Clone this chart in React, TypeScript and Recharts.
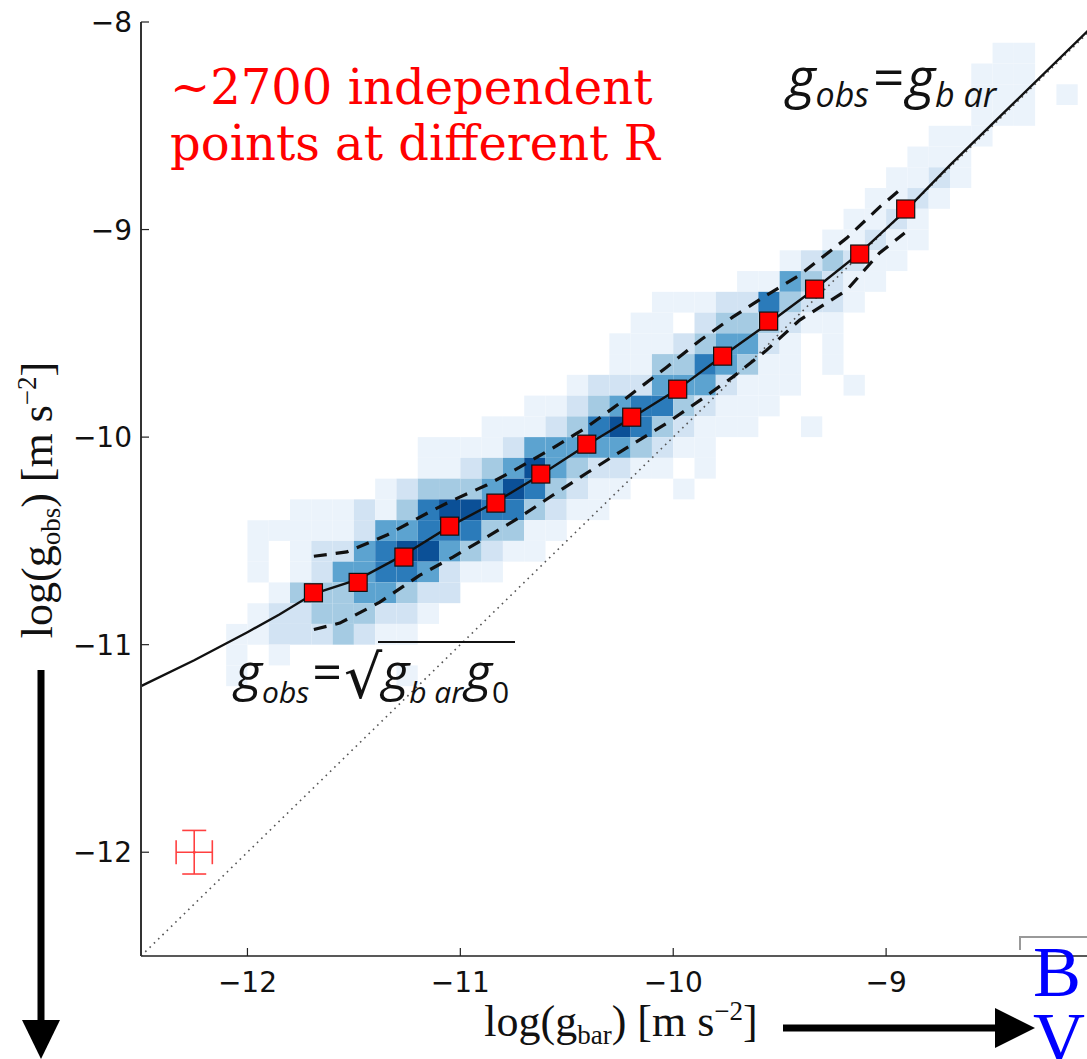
import { ComposedChart, Line, Scatter, XAxis, YAxis, ReferenceArea, ErrorBar } from 'recharts';

// axis ticks
const xTicks = [-12, -11, -10, -9];
const yTicks = [-12, -11, -10, -9, -8];

// binned means (red squares)
const binX = [-11.69, -11.48, -11.265, -11.05, -10.833, -10.622, -10.406, -10.195, -9.979, -9.768, -9.552, -9.336, -9.124, -8.908];
const binY = [-10.75, -10.7, -10.578, -10.429, -10.318, -10.178, -10.034, -9.904, -9.769, -9.61, -9.441, -9.287, -9.118, -8.901];

// fitted relation (solid line)
const fitX = [-12.5, -12.25, -12.0, -11.85, -11.69, -11.48, -11.27, -11.05, -10.83, -10.62, -10.41, -10.2, -9.98, -9.77, -9.55, -9.34, -9.12, -8.91, -8.7, -8.5, -8.0];
const fitY = [-11.2, -11.075, -10.94, -10.855, -10.755, -10.685, -10.57, -10.43, -10.31, -10.18, -10.04, -9.91, -9.77, -9.61, -9.45, -9.29, -9.11, -8.91, -8.69, -8.49, -7.99];

// rms scatter (dashed lines)
const upperX = [-11.688, -11.533, -11.345, -11.129, -11.035, -10.876, -10.721, -10.566, -10.406, -10.251, -10.031, -9.873, -9.721, -9.561, -9.406, -9.185, -9.031, -8.937];
const upperY = [-10.574, -10.553, -10.472, -10.352, -10.304, -10.231, -10.145, -10.053, -9.952, -9.836, -9.663, -9.533, -9.422, -9.316, -9.219, -9.041, -8.892, -8.81];
const lowerX = [-11.688, -11.566, -11.378, -11.19, -11.035, -10.876, -10.721, -10.566, -10.406, -10.251, -10.031, -9.873, -9.721, -9.561, -9.406, -9.185, -9.031, -8.913];
const lowerY = [-10.927, -10.896, -10.795, -10.665, -10.578, -10.482, -10.386, -10.28, -10.173, -10.072, -9.933, -9.822, -9.711, -9.581, -9.436, -9.292, -9.113, -9.017];

// one-to-one line
const unityX = [-12.5, -8.0];

// typical error bar
const errPoint = [{ x: -12.25, y: -12.0, ex: 0.085, ey: 0.105 }];

// 2D histogram: [row top edge, first column left edge, levels left to right (0 = empty)]
const heatRows: [number, number, number[]][] = [
  [-8.1, -8.5, [1, 1]],
  [-8.2, -8.6, [1, 1, 1]],
  [-8.3, -8.6, [1, 1, 1, 0, 1]],
  [-8.4, -8.6, [1, 1, 1]],
  [-8.5, -8.8, [1, 1, 1]],
  [-8.6, -8.9, [1, 1, 1]],
  [-8.7, -9.0, [1, 1, 2, 1]],
  [-8.8, -9.1, [1, 1, 2, 1]],
  [-8.9, -9.2, [1, 1, 2, 1]],
  [-9.0, -9.3, [1, 1, 2, 1, 1]],
  [-9.1, -9.5, [1, 2, 3, 2, 1, 1]],
  [-9.2, -9.7, [1, 1, 4, 3, 2, 1, 1]],
  [-9.3, -10.1, [1, 1, 1, 2, 2, 5, 3, 2, 2, 1]],
  [-9.4, -10.2, [1, 1, 0, 2, 3, 3, 3, 2, 1, 1]],
  [-9.5, -10.3, [1, 1, 1, 2, 3, 4, 4, 2, 1, 0, 1]],
  [-9.6, -10.3, [1, 1, 3, 3, 5, 4, 3, 1, 1, 0, 1]],
  [-9.7, -10.5, [1, 2, 2, 2, 4, 4, 4, 2, 1, 1, 1, 0, 0, 1]],
  [-9.8, -10.7, [1, 1, 2, 3, 4, 5, 5, 3, 2, 1, 1, 1]],
  [-9.9, -10.9, [1, 1, 1, 2, 3, 5, 6, 5, 3, 2, 1, 1, 1, 0, 0, 1]],
  [-10.0, -11.2, [1, 1, 1, 1, 2, 4, 4, 4, 4, 4, 3, 2, 1, 1]],
  [-10.1, -11.2, [1, 1, 2, 3, 4, 6, 4, 3, 2, 2, 1, 1, 0, 1]],
  [-10.2, -11.4, [1, 2, 3, 3, 3, 4, 6, 5, 3, 2, 1, 1, 0, 0, 1]],
  [-10.3, -11.8, [1, 1, 1, 2, 1, 3, 5, 6, 6, 5, 5, 3, 2, 1, 1]],
  [-10.4, -12.0, [1, 1, 1, 1, 1, 2, 4, 4, 5, 5, 5, 3, 3, 1, 1]],
  [-10.5, -12.0, [1, 0, 1, 2, 2, 4, 5, 6, 6, 4, 3, 2, 1, 1]],
  [-10.6, -12.0, [1, 0, 1, 2, 4, 4, 5, 5, 4, 2, 1, 1]],
  [-10.7, -11.9, [1, 3, 3, 3, 4, 4, 3, 2, 2]],
  [-10.8, -12.0, [1, 2, 2, 3, 3, 3, 2, 2, 1]],
  [-10.9, -12.1, [1, 1, 2, 2, 2, 3, 2, 1, 1]],
  [-11.0, -12.1, [1, 0, 1]],
  [-11.1, -12.1, [1, 0, 0, 0, 0, 0, 0, 0, 1]],
];
const heatColors = ['none', '#ebf3fb', '#d2e3f3', '#a5cbe3', '#5ca3d0', '#2b7bba', '#0b5097'];

const r2 = (v: number) => Math.round(v * 100) / 100;
const heatCells = heatRows.flatMap(([top, x0, levels]) =>
  levels
    .map((lv, i) => ({ x1: r2(x0 + i * 0.1), x2: r2(x0 + (i + 1) * 0.1), y1: r2(top - 0.1), y2: top, lv }))
    .filter(c => c.lv > 0)
);

const toPts = (xs: number[], ys: number[]) => xs.map((x, i) => ({ x, y: ys[i] }));
const binData = toPts(binX, binY);
const fitData = toPts(fitX, fitY);
const upperData = toPts(upperX, upperY);
const lowerData = toPts(lowerX, lowerY);
const unityData = toPts(unityX, unityX);

const fmt = (v: number) => (v < 0 ? '\u2212' + Math.abs(v) : String(v));
const tickFont = { fontFamily: 'DejaVu Sans', fontSize: 28, fill: '#111' };

const BottomTick = (props: any) => {
  const { x, y, payload } = props;
  return (
    <g>
      <line x1={x} y1={y} x2={x} y2={y - 8} stroke="#222" strokeWidth={1.2} />
      <text x={x} y={y + 36} textAnchor="middle" {...tickFont}>{fmt(payload.value)}</text>
    </g>
  );
};

const TopTick = (props: any) => {
  const { x, y } = props;
  return <line x1={x} y1={y} x2={x} y2={y + 8} stroke="#222" strokeWidth={1.2} />;
};

const LeftTick = (props: any) => {
  const { x, y, payload } = props;
  return (
    <g>
      <line x1={x} y1={y} x2={x + 8} y2={y} stroke="#222" strokeWidth={1.2} />
      <text x={x - 9} y={y + 10} textAnchor="end" {...tickFont}>{fmt(payload.value)}</text>
    </g>
  );
};

const Square = (props: any) => {
  const { cx, cy } = props;
  return <rect x={cx - 9} y={cy - 9} width={18} height={18} fill="#ff0000" stroke="#111" strokeWidth={1.2} />;
};

const Dot = (props: any) => {
  const { cx, cy } = props;
  return <circle cx={cx} cy={cy} r={1.5} fill="#ff4040" />;
};

const mathFont = { fontFamily: 'Open Sans', fontStyle: 'italic' as const, fill: '#111' };

export default function App() {
  return (
    <div style={{ position: 'fixed', left: 0, top: 0, width: 1087, height: 1059, overflow: 'hidden', background: '#fff' }}>
      <ComposedChart width={1100} height={1059} margin={{ top: 22, right: 1, bottom: 63, left: 81 }}>
        <XAxis
          dataKey="x"
          type="number"
          domain={[-12.5, -8]}
          ticks={xTicks}
          allowDataOverflow
          height={40}
          tickSize={0}
          tickMargin={0}
          tickLine={false}
          tick={<BottomTick />}
          axisLine={{ stroke: '#222', strokeWidth: 1.5 }}
        />
        <XAxis
          xAxisId="top"
          orientation="top"
          type="number"
          domain={[-12.5, -8]}
          ticks={xTicks}
          allowDataOverflow
          height={0}
          tickSize={0}
          tickMargin={0}
          tickLine={false}
          tick={<TopTick />}
          axisLine={{ stroke: '#222', strokeWidth: 1.5 }}
        />
        <YAxis
          dataKey="y"
          type="number"
          domain={[-12.5, -8]}
          ticks={yTicks}
          allowDataOverflow
          width={60}
          tickSize={0}
          tickMargin={0}
          tickLine={false}
          tick={<LeftTick />}
          axisLine={{ stroke: '#333', strokeWidth: 2 }}
        />
        {heatCells.map((c, i) => (
          <ReferenceArea
            key={i}
            x1={c.x1}
            x2={c.x2}
            y1={c.y1}
            y2={c.y2}
            fill={heatColors[c.lv]}
            fillOpacity={1}
            stroke="none"
          />
        ))}
        <Line data={unityData} dataKey="y" type="linear" stroke="#555" strokeWidth={1.6} strokeDasharray="1.6 4.4" dot={false} isAnimationActive={false} />
        <Line data={upperData} dataKey="y" type="linear" stroke="#111" strokeWidth={3.2} strokeDasharray="13 9" dot={false} isAnimationActive={false} />
        <Line data={lowerData} dataKey="y" type="linear" stroke="#111" strokeWidth={3.2} strokeDasharray="13 9" dot={false} isAnimationActive={false} />
        <Line data={fitData} dataKey="y" type="linear" stroke="#111" strokeWidth={2.4} dot={false} isAnimationActive={false} />
        <Scatter data={binData} dataKey="y" shape={<Square />} isAnimationActive={false} />
        <Scatter data={errPoint} dataKey="y" shape={<Dot />} isAnimationActive={false}>
          <ErrorBar dataKey="ex" direction="x" width={12} stroke="#ff4040" strokeWidth={1.6} />
          <ErrorBar dataKey="ey" direction="y" width={12} stroke="#ff4040" strokeWidth={1.6} />
        </Scatter>
      </ComposedChart>

      <svg width={1087} height={1059} style={{ position: 'absolute', left: 0, top: 0, pointerEvents: 'none' }}>
        {/* annotation */}
        <text x={170} y={104} fontFamily="DejaVu Serif" fontSize={48} fill="#ff0000">~2700 independent</text>
        <text x={170} y={160} fontFamily="DejaVu Serif" fontSize={48} fill="#ff0000">points at different R</text>

        {/* g_obs = g_bar */}
        <text x={787} y={97} fontSize={55} {...mathFont}>
          g<tspan fontSize={34} dy={10}>obs</tspan>
          <tspan fontStyle="normal" dy={-10} dx={4}>=</tspan>
          <tspan dx={2}>g</tspan>
          <tspan fontSize={34} dy={10}>b ar</tspan>
        </text>

        {/* g_obs = sqrt(g_bar g0) */}
        <text x={235} y={690} fontSize={52} {...mathFont}>
          g<tspan fontSize={30} dy={13}>obs</tspan>
          <tspan fontStyle="normal" dy={-13} dx={3}>=</tspan>
          <tspan fontStyle="normal" fontFamily="DejaVu Sans" fontSize={60} dx={2} dy={8}>{'\u221A'}</tspan>
          <tspan dy={-8}>g</tspan>
          <tspan fontSize={30} dy={13}>b ar</tspan>
          <tspan dy={-13} dx={2}>g</tspan>
          <tspan fontSize={30} fontStyle="normal" dy={13}>0</tspan>
        </text>
        <line x1={378} y1={642} x2={515} y2={642} stroke="#111" strokeWidth={2} />

        {/* axis titles */}
        <text x={621} y={1036} textAnchor="middle" fontFamily="Liberation Serif" fontSize={44} fill="#111">
          log(g<tspan fontSize={27} dy={8}>bar</tspan><tspan dy={-8}>) [m s</tspan><tspan fontSize={27} dy={-16}>{'\u22122'}</tspan><tspan dy={16}>]</tspan>
        </text>
        <text transform="translate(52,500) rotate(-90)" textAnchor="middle" fontFamily="Liberation Serif" fontSize={44} fill="#111">
          log(g<tspan fontSize={27} dy={8}>obs</tspan><tspan dy={-8}>) [m s</tspan><tspan fontSize={27} dy={-16}>{'\u22122'}</tspan><tspan dy={16}>]</tspan>
        </text>

        {/* arrows */}
        <line x1={783} y1={1028} x2={1000} y2={1028} stroke="#000" strokeWidth={7} />
        <polygon points="995,1008 1035,1028 995,1048" fill="#000" />
        <line x1={41} y1={670} x2={41} y2={1025} stroke="#000" strokeWidth={7} />
        <polygon points="22,1020 60,1020 41,1059" fill="#000" />

        {/* neighbouring panel fragment */}
        <polyline points="1020,950 1020,937 1087,937" fill="none" stroke="#999" strokeWidth={2} />
        <text x={1033} y={996} fontFamily="Liberation Serif" fontSize={72} fill="#0000ff">B</text>
        <text x={1033} y={1062} fontFamily="Liberation Serif" fontSize={72} fill="#0000ff">V</text>
      </svg>
    </div>
  );
}
